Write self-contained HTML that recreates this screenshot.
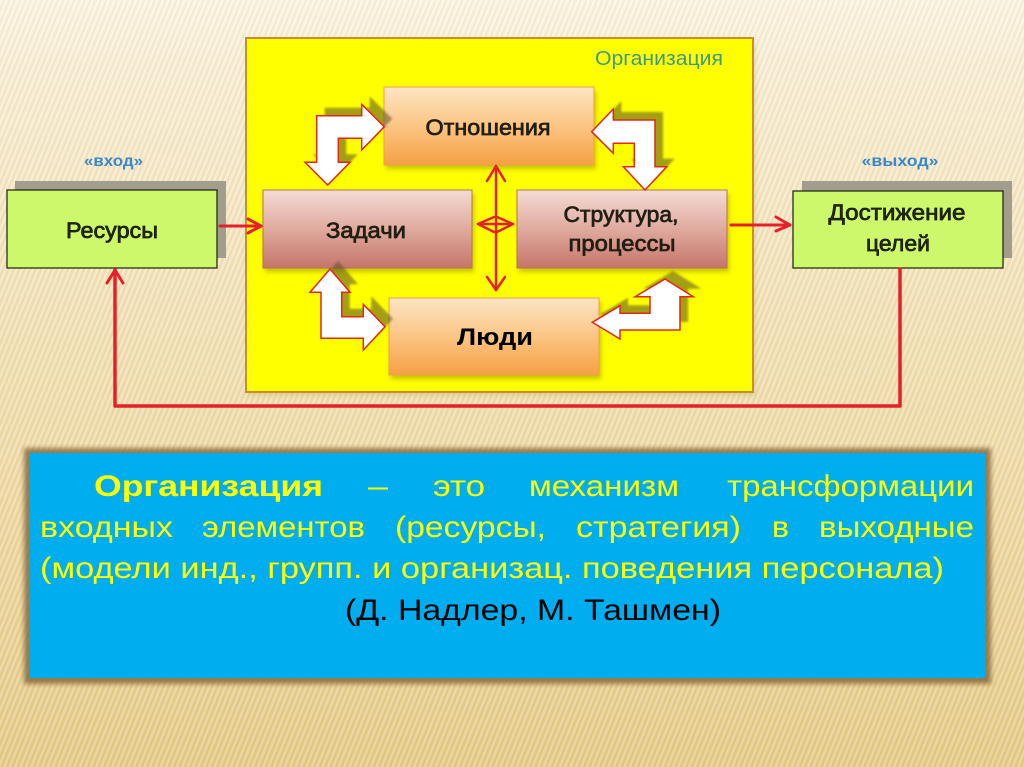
<!DOCTYPE html>
<html><head><meta charset="utf-8">
<style>
html,body{margin:0;padding:0;}
body{width:1024px;height:767px;overflow:hidden;position:relative;
background:
 repeating-linear-gradient(112deg, rgba(255,255,255,0.22) 0px, rgba(255,255,255,0.22) 2px, rgba(170,130,50,0.08) 3px, rgba(170,130,50,0.08) 5px),
 linear-gradient(to bottom, #fbf5e3 0%, #f8eed5 10%, #f3e4bc 35%, #efdba8 60%, #e9d193 85%, #e5ca86 100%);
font-family:"Liberation Sans", sans-serif;}
svg{position:absolute;left:0;top:0;}
</style></head><body>
<svg width="1024" height="767" viewBox="0 0 1024 767" xmlns="http://www.w3.org/2000/svg" font-family="'Liberation Sans', sans-serif">
<defs>
 <linearGradient id="og" x1="0" y1="0" x2="0" y2="1">
  <stop offset="0" stop-color="#fde5c4"/><stop offset="0.5" stop-color="#fbc583"/><stop offset="1" stop-color="#f6a044"/>
 </linearGradient>
 <linearGradient id="pg" x1="0" y1="0" x2="0" y2="1">
  <stop offset="0" stop-color="#f4dcd5"/><stop offset="0.5" stop-color="#e0aa9f"/><stop offset="1" stop-color="#c5766a"/>
 </linearGradient>
 <filter id="bl" x="-20%" y="-20%" width="140%" height="140%"><feGaussianBlur stdDeviation="2.5"/></filter>
 <filter id="bl1" x="-20%" y="-20%" width="140%" height="140%"><feGaussianBlur stdDeviation="1"/></filter>
</defs>

<!-- Yellow organization box -->
<rect x="248" y="41" width="507" height="354" fill="#b8a040" opacity="0.35" filter="url(#bl)"/>
<rect x="246" y="38" width="507" height="354" fill="#ffff00" stroke="#c8902c" stroke-width="2"/>
<text x="659" y="65" font-size="20" fill="#3d9a82" text-anchor="middle" textLength="128" lengthAdjust="spacingAndGlyphs">Организация</text>

<!-- box shadows -->
<g fill="#a89a00" opacity="0.6" filter="url(#bl)">
 <rect x="386" y="91" width="210" height="78"/>
 <rect x="265" y="194" width="209" height="78"/>
 <rect x="519" y="194" width="210" height="78"/>
 <rect x="391" y="302" width="210" height="77"/>
</g>

<!-- inner boxes -->
<rect x="384" y="87" width="210" height="78" fill="url(#og)" stroke="#eea24e" stroke-width="1"/>
<rect x="263" y="190" width="209" height="78" fill="url(#pg)" stroke="#b87060" stroke-width="1"/>
<rect x="517" y="190" width="210" height="78" fill="url(#pg)" stroke="#b87060" stroke-width="1"/>
<rect x="389" y="298" width="210" height="77" fill="url(#og)" stroke="#eea24e" stroke-width="1"/>

<g fill="#262010" stroke="#1a1a10" stroke-width="0.7" font-size="22">
 <text x="488" y="135" text-anchor="middle" textLength="125" lengthAdjust="spacingAndGlyphs">Отношения</text>
 <text x="366" y="238" text-anchor="middle" textLength="80" lengthAdjust="spacingAndGlyphs">Задачи</text>
 <text x="621" y="222" text-anchor="middle" textLength="115" lengthAdjust="spacingAndGlyphs">Структура,</text>
 <text x="622" y="251" text-anchor="middle" textLength="107" lengthAdjust="spacingAndGlyphs">процессы</text>
</g>
<text x="495" y="345" text-anchor="middle" font-size="24" font-weight="bold" fill="#000" textLength="76" lengthAdjust="spacingAndGlyphs">Люди</text>

<!-- bent arrows shadows -->
<g fill="#5a5028" opacity="0.55" filter="url(#bl1)" transform="translate(8,-8)">
 <polygon points="316.7,115.7 361.7,115.7 361.7,104.3 384.3,126.7 361.7,150 361.7,138.3 338.3,138.3 338.3,162.3 350,162.3 327.7,185 305,162.3 316.7,162.3"/>
 <polygon points="591.7,131.7 613.3,109 613.3,120 655,120 655,166.7 666.7,166.7 645,190 623.3,166.7 634.3,166.7 634.3,143.3 613.3,143.3 613.3,153.3"/>
 <polygon points="330,269 350,292.3 341.7,292.3 341.7,316.7 363.3,316.7 363.3,304.3 385,326.7 363.3,350 363.3,338.3 321,338.3 321,292.3 310,292.3"/>
 <polygon points="592.3,322.3 620,305.7 620,313.3 650,313.3 650,296.7 635,296.7 665,279 693.3,296.7 680,296.7 680,330 620,330 620,339"/>
</g>
<!-- bent arrows -->
<g fill="#ffffff" stroke="#e02818" stroke-width="1.5" stroke-linejoin="miter">
 <polygon points="316.7,115.7 361.7,115.7 361.7,104.3 384.3,126.7 361.7,150 361.7,138.3 338.3,138.3 338.3,162.3 350,162.3 327.7,185 305,162.3 316.7,162.3"/>
 <polygon points="591.7,131.7 613.3,109 613.3,120 655,120 655,166.7 666.7,166.7 645,190 623.3,166.7 634.3,166.7 634.3,143.3 613.3,143.3 613.3,153.3"/>
 <polygon points="330,269 350,292.3 341.7,292.3 341.7,316.7 363.3,316.7 363.3,304.3 385,326.7 363.3,350 363.3,338.3 321,338.3 321,292.3 310,292.3"/>
 <polygon points="592.3,322.3 620,305.7 620,313.3 650,313.3 650,296.7 635,296.7 665,279 693.3,296.7 680,296.7 680,330 620,330 620,339"/>
</g>

<!-- center red double arrows -->
<g fill="none" stroke="#e5202a" stroke-width="2.5" stroke-linecap="round" stroke-linejoin="round">
 <line x1="496" y1="166" x2="496" y2="290"/>
 <polyline points="487,181 496,166 505,181"/>
 <polyline points="487,277 496,290 505,277"/>
 <line x1="478" y1="224" x2="513" y2="224"/>
 <polyline points="494,217 478,224 494,232"/>
 <polyline points="497,217 513,224 497,232"/>
</g>

<!-- green boxes -->
<rect x="15" y="181" width="211" height="77" fill="#a39d8d"/>
<rect x="7" y="190" width="210" height="78" fill="#cdf86c" stroke="#1c1c10" stroke-width="1.2"/>
<rect x="802" y="181" width="210" height="77" fill="#a39d8d"/>
<rect x="793" y="191" width="210" height="77" fill="#cdf86c" stroke="#1c1c10" stroke-width="1.2"/>

<g fill="#262a10" stroke="#141808" stroke-width="0.7" font-size="22">
 <text x="112" y="238" text-anchor="middle" textLength="92" lengthAdjust="spacingAndGlyphs">Ресурсы</text>
 <text x="897" y="220" text-anchor="middle" textLength="137" lengthAdjust="spacingAndGlyphs">Достижение</text>
 <text x="898" y="251" text-anchor="middle" textLength="64" lengthAdjust="spacingAndGlyphs">целей</text>
</g>

<g font-family="'Liberation Sans', 'DejaVu Sans', sans-serif" font-size="16" font-weight="bold" fill="#3a88c8">
 <text x="113.5" y="166" text-anchor="middle" textLength="59" lengthAdjust="spacingAndGlyphs">«вход»</text>
 <text x="900" y="166" text-anchor="middle" textLength="77" lengthAdjust="spacingAndGlyphs">«выход»</text>
</g>

<!-- external red arrows -->
<g fill="none" stroke="#e5202a" stroke-linecap="round" stroke-linejoin="round">
 <g stroke-width="3">
  <line x1="220" y1="226" x2="261" y2="226"/>
  <polyline points="248,219 261,226 248,233"/>
  <line x1="731" y1="225" x2="790" y2="225"/>
  <polyline points="776,217 790,225 776,231"/>
 </g>
 <polyline stroke-width="3.5" points="115,270 115,406 900,406 900,269"/>
 <polyline stroke-width="3" points="107,283 115,270 123,283"/>
</g>

<!-- bottom blue box -->
<rect x="24" y="448" width="967" height="236" fill="#8a6a3a" opacity="0.85" filter="url(#bl)"/>
<rect x="29" y="453" width="957" height="225" fill="#00aeef"/>

<g font-size="30" fill="#ffff00">
 <text x="94" y="496" font-weight="bold" textLength="229" lengthAdjust="spacingAndGlyphs">Организация</text>
 <text x="368" y="496" textLength="20" lengthAdjust="spacingAndGlyphs">–</text>
 <text x="433" y="496" textLength="52" lengthAdjust="spacingAndGlyphs">это</text>
 <text x="529" y="496" textLength="150" lengthAdjust="spacingAndGlyphs">механизм</text>
 <text x="727" y="496" textLength="247" lengthAdjust="spacingAndGlyphs">трансформации</text>

 <text x="40" y="537" textLength="133" lengthAdjust="spacingAndGlyphs">входных</text>
 <text x="202" y="537" textLength="163" lengthAdjust="spacingAndGlyphs">элементов</text>
 <text x="395" y="537" textLength="151" lengthAdjust="spacingAndGlyphs">(ресурсы,</text>
 <text x="576" y="537" textLength="165" lengthAdjust="spacingAndGlyphs">стратегия)</text>
 <text x="772" y="537" textLength="17" lengthAdjust="spacingAndGlyphs">в</text>
 <text x="819" y="537" textLength="155" lengthAdjust="spacingAndGlyphs">выходные</text>

 <text x="40" y="578" textLength="904" lengthAdjust="spacingAndGlyphs">(модели инд., групп. и организац. поведения персонала)</text>
</g>
<text x="345" y="620" font-size="30" fill="#000" textLength="376" lengthAdjust="spacingAndGlyphs">(Д. Надлер, М. Ташмен)</text>
</svg>
</body></html>
